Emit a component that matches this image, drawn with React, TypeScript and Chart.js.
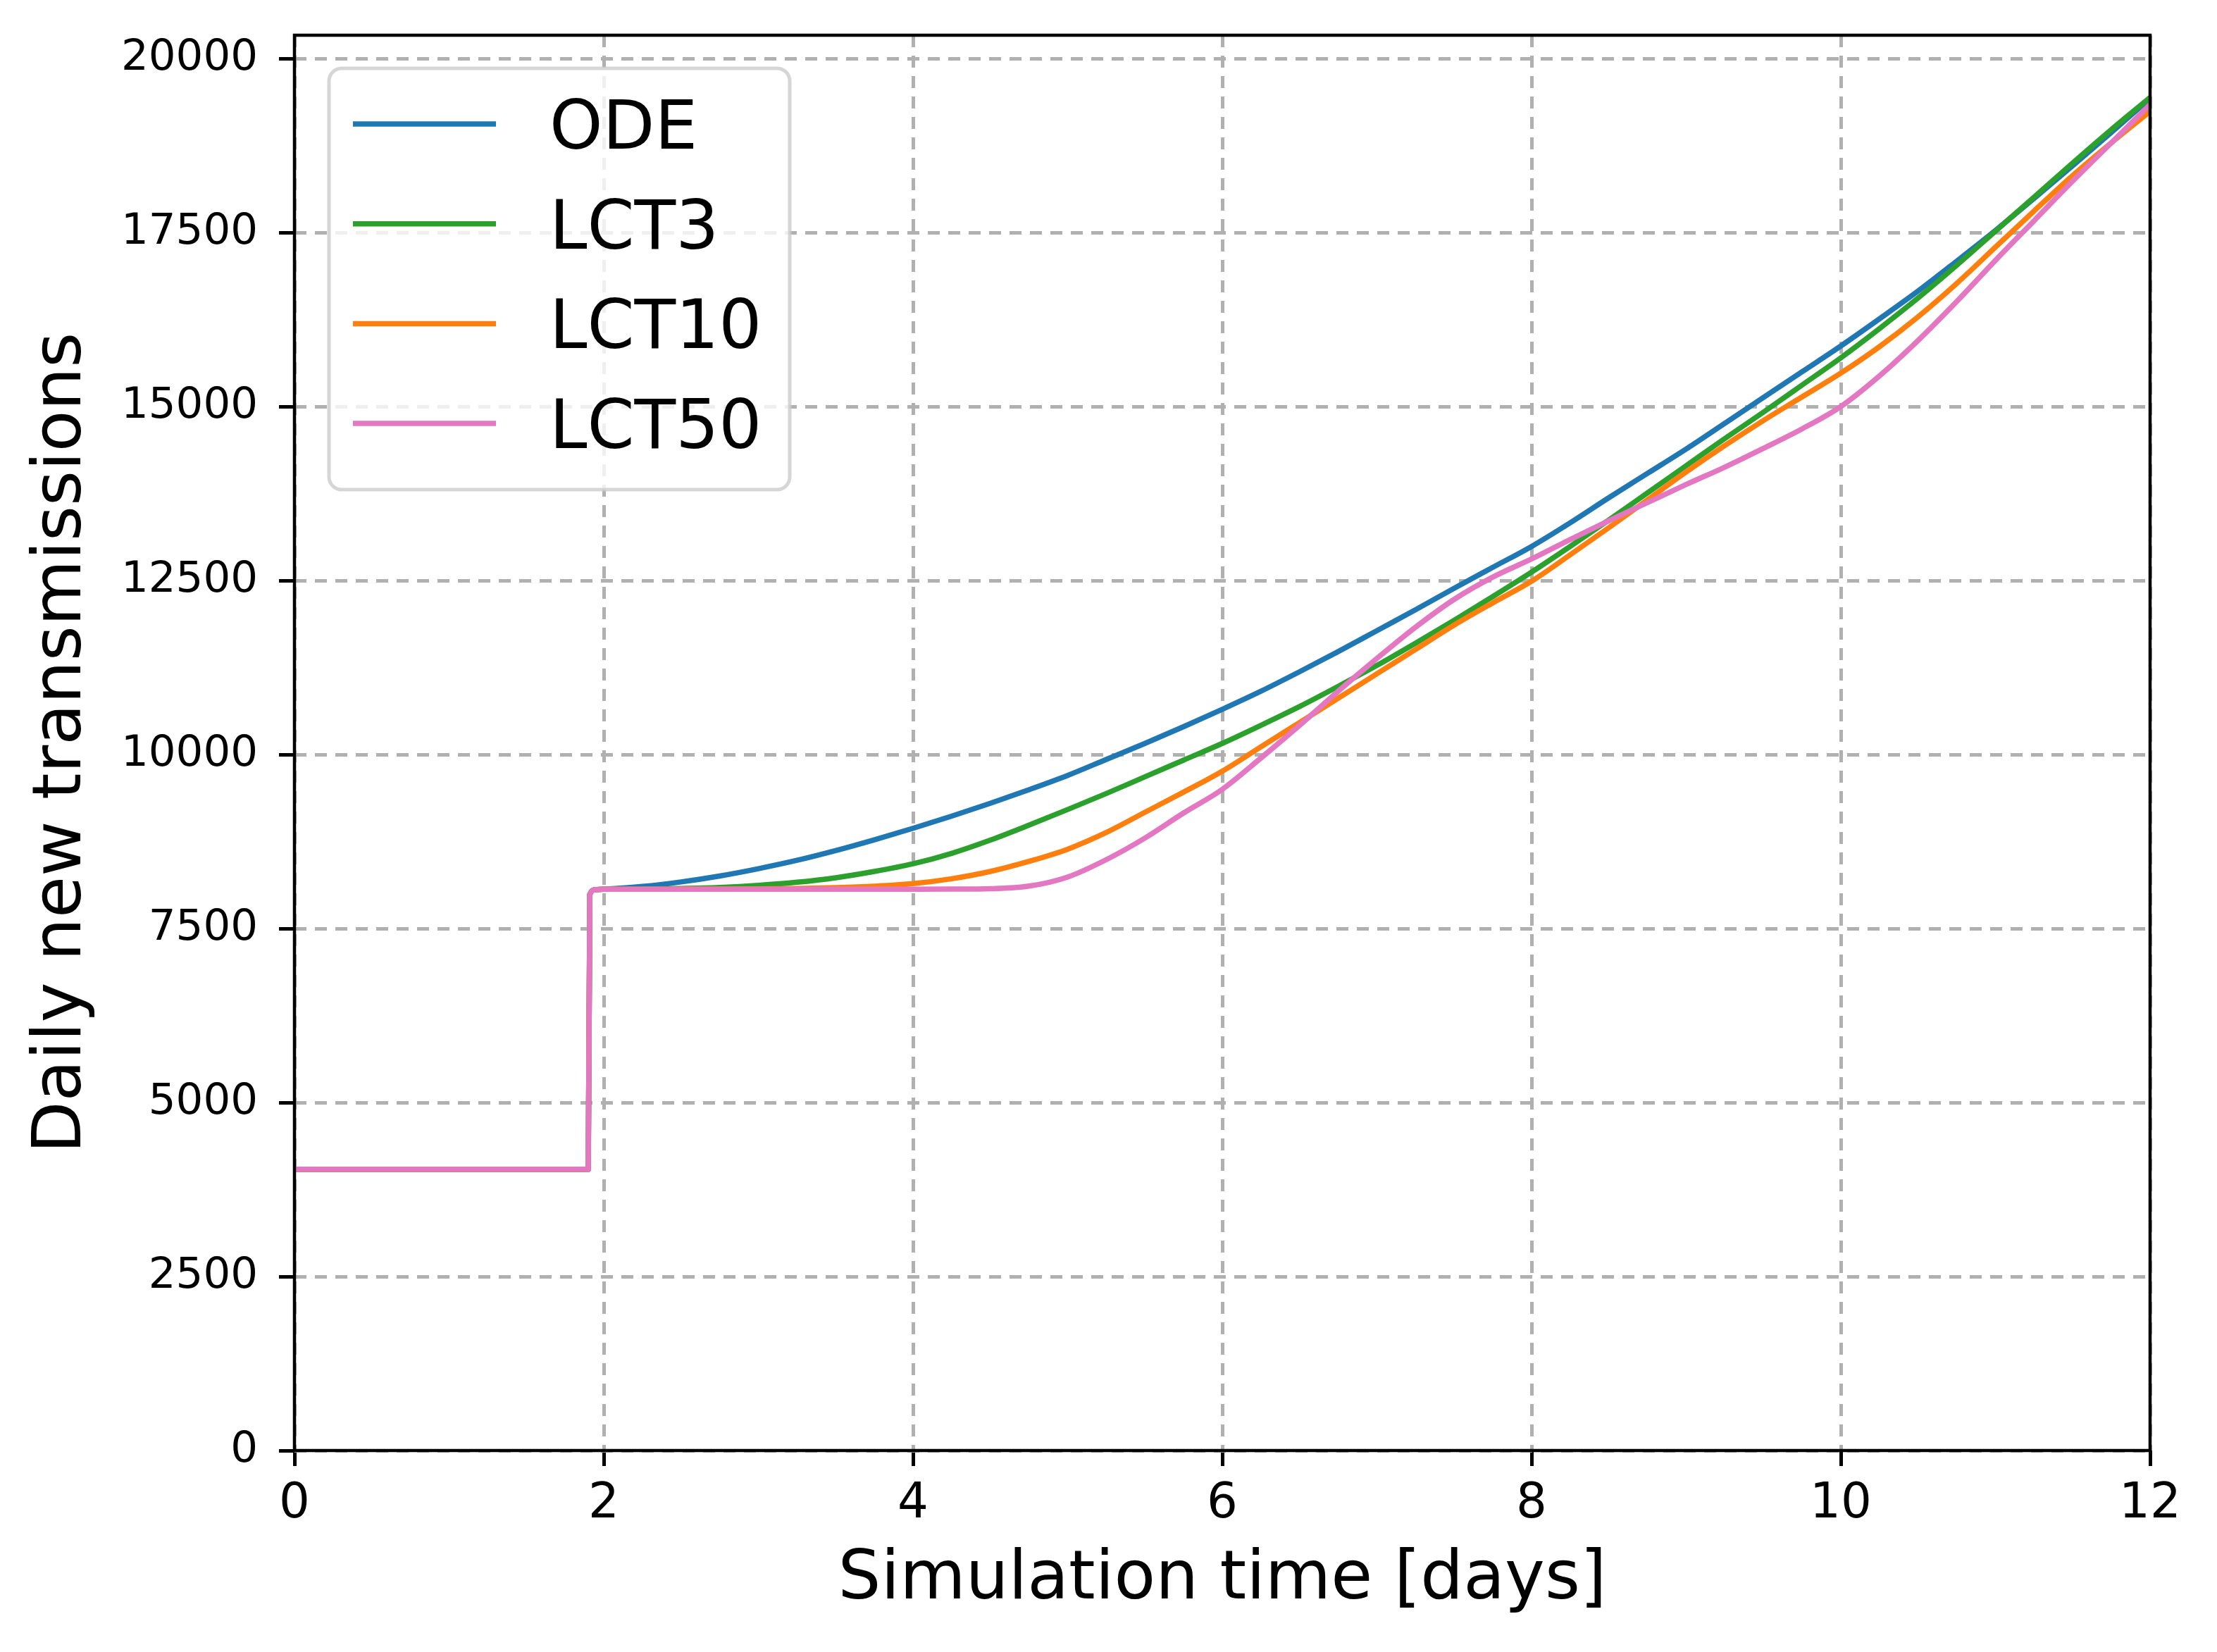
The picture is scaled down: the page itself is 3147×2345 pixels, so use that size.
import { useEffect, useRef } from 'react';
import { Chart, registerables, type Plugin } from 'chart.js';

Chart.register(...registerables);

// simulation time [days]
const times = [
  0, 1.9, 1.91, 1.95,
  2, 2.25, 2.5, 2.75, 3, 3.25, 3.5, 3.75, 4, 4.25, 4.5, 4.75,
  5, 5.25, 5.5, 5.75, 6, 6.25, 6.5, 6.75, 7, 7.25, 7.5, 7.75,
  8, 8.25, 8.5, 8.75, 9, 9.25, 9.5, 9.75, 10, 10.25, 10.5, 10.75,
  11, 11.25, 11.5, 11.75, 12,
];

const ode = [
  4040, 4040, 7990, 8060,
  8065, 8105, 8170, 8255, 8360, 8480, 8620, 8775, 8940, 9115, 9300, 9495,
  9700, 9930, 10160, 10400, 10650, 10910, 11190, 11480, 11780, 12080, 12390, 12690,
  12990, 13330, 13690, 14040, 14390, 14760, 15130, 15500, 15870, 16260, 16660, 17090,
  17530, 17990, 18460, 18940, 19430,
];

const lct3 = [
  4040, 4040, 7990, 8060,
  8065, 8068, 8075, 8090, 8120, 8165, 8230, 8320, 8430, 8580, 8770, 8985,
  9210, 9440, 9680, 9920, 10160, 10420, 10690, 10980, 11280, 11600, 11930, 12270,
  12620, 12990, 13370, 13760, 14150, 14540, 14920, 15310, 15700, 16120, 16560, 17030,
  17520, 18010, 18500, 18980, 19440,
];

const lct10 = [
  4040, 4040, 7990, 8060,
  8065, 8065, 8066, 8067, 8070, 8076, 8087, 8108, 8145, 8215, 8320, 8465,
  8640, 8880, 9170, 9460, 9760, 10110, 10460, 10810, 11160, 11510, 11860, 12180,
  12490, 12870, 13260, 13660, 14060, 14440, 14800, 15140, 15480, 15860, 16290, 16770,
  17290, 17810, 18320, 18790, 19240,
];

const lct50 = [
  4040, 4040, 7990, 8060,
  8065, 8065, 8065, 8065, 8065, 8065, 8065, 8065, 8065, 8066, 8072, 8110,
  8240, 8490, 8800, 9160, 9500, 9950, 10420, 10910, 11380, 11830, 12230, 12550,
  12810, 13090, 13360, 13620, 13880, 14130, 14400, 14680, 15000, 15440, 15950, 16510,
  17100, 17670, 18240, 18790, 19340,
];

const seriesNames = ['ODE', 'LCT3', 'LCT10', 'LCT50'];
const seriesColors = ['#1f77b4', '#2ca02c', '#ff7f0e', '#e377c2'];
const seriesValues = [ode, lct3, lct10, lct50];

const yTicks = [0, 2500, 5000, 7500, 10000, 12500, 15000, 17500, 20000];

const FONT = "'DejaVu Sans', sans-serif";

// black box around the plot area, like matplotlib spines
const framePlugin: Plugin<'line'> = {
  id: 'frame',
  afterDatasetsDraw(chart) {
    const { ctx, chartArea } = chart;
    ctx.save();
    ctx.strokeStyle = '#000';
    ctx.lineWidth = 4.5;
    ctx.strokeRect(
      chartArea.left,
      chartArea.top,
      chartArea.right - chartArea.left,
      chartArea.bottom - chartArea.top,
    );
    ctx.restore();
  },
};

// legend box in the upper left corner of the axes
const boxLegendPlugin: Plugin<'line'> = {
  id: 'boxLegend',
  afterDraw(chart) {
    const { ctx, chartArea } = chart;
    const x0 = chartArea.left + 49;
    const y0 = chartArea.top + 47;
    const w = 654;
    const h = 598;
    ctx.save();
    ctx.beginPath();
    ctx.roundRect(x0, y0, w, h, 18);
    ctx.fillStyle = 'rgba(255,255,255,0.8)';
    ctx.fill();
    ctx.lineWidth = 5;
    ctx.strokeStyle = 'rgba(204,204,204,0.8)';
    ctx.stroke();

    ctx.font = `96px ${FONT}`;
    ctx.textBaseline = 'alphabetic';
    ctx.textAlign = 'left';
    chart.data.datasets.forEach((ds, i) => {
      const y = y0 + 79 + i * 141.7;
      ctx.beginPath();
      ctx.moveTo(x0 + 34, y);
      ctx.lineTo(x0 + 237, y);
      ctx.strokeStyle = ds.borderColor as string;
      ctx.lineWidth = 7.5;
      ctx.stroke();
      ctx.fillStyle = '#000';
      ctx.fillText(ds.label ?? '', x0 + 313, y + 35);
    });
    ctx.restore();
  },
};

export default function App() {
  const canvasRef = useRef<HTMLCanvasElement>(null);

  useEffect(() => {
    if (!canvasRef.current) return;

    const chart = new Chart(canvasRef.current, {
      type: 'line',
      data: {
        datasets: seriesNames.map((name, i) => ({
          label: name,
          data: times.map((t, j) => ({ x: t, y: seriesValues[i][j] })),
          borderColor: seriesColors[i],
          backgroundColor: seriesColors[i],
          borderWidth: 7.5,
          pointRadius: 0,
          cubicInterpolationMode: 'monotone' as const,
          borderJoinStyle: 'round' as const,
          fill: false,
          // matplotlib draws the last series on top
          order: seriesNames.length - i,
        })),
      },
      options: {
        animation: false,
        responsive: false,
        devicePixelRatio: 1,
        layout: { padding: { top: 50, right: 95, left: 0, bottom: 0 } },
        plugins: {
          legend: { display: false },
          tooltip: { enabled: false },
        },
        scales: {
          x: {
            type: 'linear',
            min: 0,
            max: 12,
            afterFit: (scale) => {
              scale.height = 286;
              scale.paddingLeft = 0;
              scale.paddingRight = 0;
            },
            ticks: {
              stepSize: 2,
              maxRotation: 0,
              padding: 14,
              color: '#000',
              font: { family: FONT, size: 69 },
              callback: (v) => String(v),
            },
            grid: {
              color: '#b0b0b0',
              lineWidth: 5,
              tickLength: 22,
              tickWidth: 5,
              tickColor: '#000',
            },
            border: { display: false, dash: [17, 12] },
            title: {
              display: true,
              text: 'Simulation time [days]',
              color: '#000',
              font: { family: FONT, size: 96 },
              padding: { top: 0, bottom: 43 },
            },
          },
          y: {
            type: 'linear',
            min: 0,
            max: 20335,
            afterFit: (scale) => {
              scale.width = 418;
              scale.paddingTop = 0;
              scale.paddingBottom = 0;
            },
            afterBuildTicks: (scale) => {
              scale.ticks = yTicks.map((v) => ({ value: v }));
            },
            ticks: {
              padding: 30,
              color: '#000',
              font: { family: FONT, size: 61 },
              callback: (v) => String(v),
            },
            grid: {
              color: '#b0b0b0',
              lineWidth: 5,
              tickLength: 22,
              tickWidth: 5,
              tickColor: '#000',
            },
            border: { display: false, dash: [17, 12] },
            title: {
              display: true,
              text: 'Daily new transmissions',
              color: '#000',
              font: { family: FONT, size: 96 },
              padding: { top: 31, bottom: 0 },
            },
          },
        },
      },
      plugins: [framePlugin, boxLegendPlugin],
    });

    return () => {
      chart.destroy();
    };
  }, []);

  return (
    <div style={{ position: 'absolute', left: 0, top: 0, width: 3147, height: 2345, background: '#fff' }}>
      <canvas ref={canvasRef} width={3147} height={2345} style={{ display: 'block' }} />
    </div>
  );
}
